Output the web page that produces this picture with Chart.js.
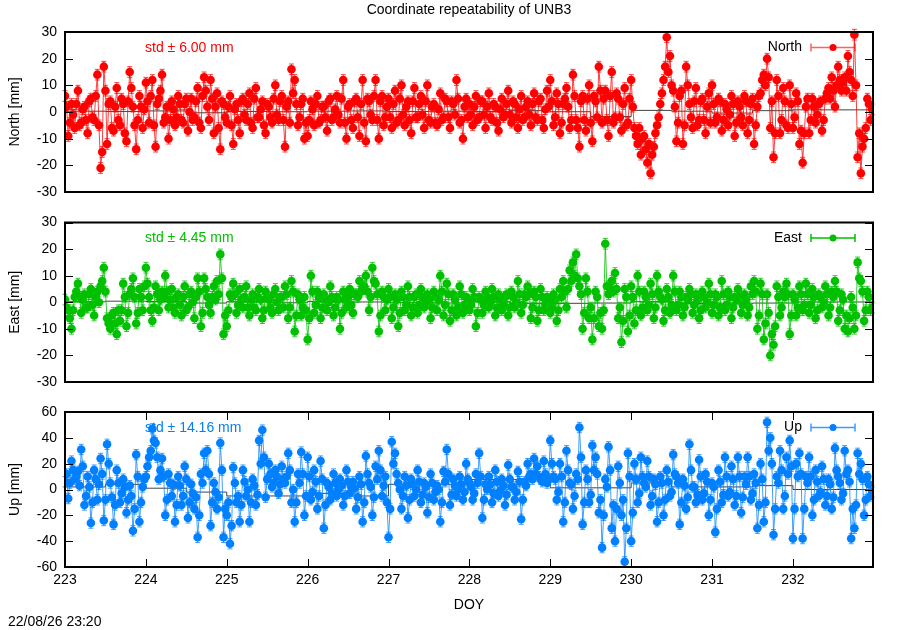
<!DOCTYPE html>
<html>
<head>
<meta charset="utf-8">
<script src="https://cdn.jsdelivr.net/npm/chart.js@4/dist/chart.umd.min.js"></script>
<style>
html, body { margin: 0; padding: 0; background: #fff; }
#wrap { position: relative; width: 900px; height: 630px; }
#wrap canvas { position: absolute; left: 0; top: 0; }
</style>
</head>
<body>
<div id="wrap">
  <canvas id="cNorth" width="900" height="630"></canvas>
  <canvas id="cEast" width="900" height="630"></canvas>
  <canvas id="cUp" width="900" height="630"></canvas>
</div>
<script>
// epochs: DOY 223.00, 223.02, 223.04 ... ; "even" arrays hold 223.00, 223.04, ...
// and "odd" arrays hold 223.02, 223.06, ...
const startDoy = 223.0;
const stepDoy = 0.04;
const halfStep = 0.02;

// residuals in mm
const north = [
  6,-9,3,-6,8, -4,2,-8,5,-3, 14,-21,17,-12,4, -7,9,-5,3,-11, 15,2,-14,6,-6,
  11,-4,12,-13,5, 14,-2,-10,4,-5, 6,-3,3,-7,5, -2,9,-6,13,2, 12,-8,7,-14,3,
  -4,6,-12,3,-8, 5,-3,7,-6,9, -2,4,-8,2,-4, 10,-3,6,-13,4, 16,12,-5,3,-10,
  -9,4,-5,6,-3, 2,-7,5,-2,6, -4,12,-10,3,-6, 5,-9,12,-11,4, -3,12,-10,6,-2,
  5,-6,8,-3,10, -5,4,-8,9,-2, 6,-6,10,-4,3, -5,7,-2,4,-6, 3,12,-4,-10,5,
  3,-5,6,-2,4, -6,7,-3,2,-7, 5,-1,8,-4,3, -6,6,-2,4,-5, 7,-3,5,-6,8,
  12,-5,7,-8,3, 9,-6,14,-3,-13, 6,-7,10,-11,4, 17,-4,8,-9,15, -2,5,-7,9,-4,
  12,-6,-12,-16,-9, -19,-23,-13,-5,3, 12,28,21,8,-11, 6,-12,17,3,-6, 9,-3,5,-8,7,
  10,-4,5,-7,3, -5,6,-9,4,-2, 6,-8,3,-12,2, 7,14,20,-6,-17, 12,-8,9,-5,10,
  -6,7,-12,-19,2, -8,5,-4,3,-7, 5,9,13,2,17, 8,13,21,12,29, -17,-23,-10,5,-3
];
const northOdd = [
  2,-4,-1,3,-5, 1,-3,4,-2,6, -5,-15,8,3,-6, 2,-3,5,-8,4, 9,-5,-3,2,1,
  4,6,-5,3,8, -4,2,-3,1,-2, 3,-4,5,0,-3, 4,-4,6,8,-3, 5,2,-6,4,-2,
  2,-5,1,-3,4, -1,3,-4,5,-2, 1,-5,3,-2,5, -1,4,-3,2,-4, 7,3,-2,5,-4,
  -3,1,3,-4,2, -2,4,-3,1,-1, 5,-4,2,-3,4, -2,3,-4,5,-1, 6,-3,4,-5,2,
  -2,3,-4,5,-1, 2,-3,4,-2,3, -1,4,-3,2,-4, 1,-3,5,-2,4, -1,5,-3,2,-2,
  -1,2,-3,4,-1, 2,-2,3,-4,1, -2,3,-1,4,-2, 1,-3,2,-1,3, -2,4,-3,1,2,
  4,-2,3,-4,5, 2,-3,6,-6,4, -3,5,-4,6,-2, 8,5,-3,6,-4, 7,-2,3,-5,5,
  2,-9,-6,-10,-14, -12,-16,-8,-2,7, 17,15,10,2,-4, 8,-5,10,-2,4, -5,4,-3,2,-4,
  3,-2,4,-3,1, -1,3,-4,2,-5, 4,-3,5,-5,6, 12,10,13,4,-8, 6,-3,4,-6,3,
  -2,4,-7,-8,5, -3,2,-1,4,-3, 7,5,8,10,12, 11,8,15,6,10, -8,-13,-6,3,1
];
const east = [
  1,-3,-10,2,7, -4,3,-2,5,-5, 4,6,13,-6,-10, -4,-12,-7,7,-9, 3,9,-8,5,-3,
  13,2,-7,6,-3, 4,10,-2,5,-4, 3,-5,6,-2,4, -6,9,-9,9,2, -4,6,8,18,-12,
  -9,3,7,-4,5, -2,6,-5,3,-3, 5,-6,4,1,-4, 5,-3,2,6,-6, 8,-11,3,-5,2,
  -14,10,-4,4,-6, 3,-3,6,-5,2, -10,4,-2,5,-4, 3,8,5,10,-3, 13,7,-11,4,-3,
  5,-6,3,-9,4, -3,6,-5,2,-4, 5,-2,3,-6,4, -3,10,-5,7,-7, 3,-5,6,-4,2,
  -3,5,-9,2,-4, 4,-2,5,-5,3, -3,2,-5,4,-2, 8,-4,3,6,-6, 4,-7,5,-3,2,
  -4,3,-7,5,8, -2,12,15,18,6, -10,9,-6,-14,4, -9,-10,22,3,8, 11,-6,-15,5,-11,
  6,-8,10,-5,4, -3,7,-6,10,2, -7,5,-4,10,-3, 4,-5,2,5,-4, 3,-6,4,-2,7,
  -4,3,-5,8,-3, 4,-6,2,5,-4, 3,-5,6,8,-10, 7,-14,3,-20,-16, 6,-5,4,7,-12,
  3,-5,6,-3,7, -4,5,-6,3,-2, 6,-5,4,8,-7, 3,-10,-11,2,-10, 15,8,-7,4,-3
];
const eastOdd = [
  -2,-6,-3,4,2, 1,-2,3,-1,2, 0,8,4,-8,-5, -8,-3,-3,2,-4, 5,2,-4,2,6,
  7,-3,-2,3,1, 2,4,1,-2,2, -1,2,-3,3,0, 2,4,-4,5,-1, 2,1,3,9,-5,
  -3,2,3,-1,1, 2,-2,1,-2,2, 1,-3,2,-2,3, 0,2,-2,3,-2, 4,-5,1,-2,-3,
  -6,4,-1,2,-2, 1,0,2,-2,1, -4,1,2,-1,3, 2,4,6,4,2, 8,3,-5,2,1,
  2,-2,1,-4,2, -1,2,-2,3,-1, 2,0,1,-2,2, 1,4,-1,3,-3, 1,-2,3,-1,1,
  -1,2,-4,1,-1, 2,0,2,-2,1, -1,3,-2,2,0, 3,-1,2,3,-2, 2,-3,2,-1,1,
  -2,1,-3,2,4, 5,8,10,9,3, -4,4,-2,-6,2, -4,-3,6,5,4, 5,-2,-7,2,-5,
  2,-3,4,-2,2, -1,3,-2,4,1, -3,2,-1,4,-1, 2,-2,1,3,-1, 1,-3,2,0,3,
  -1,2,-2,3,-1, 2,-2,1,2,-1, 1,-2,3,4,-5, 3,-8,-4,-12,-9, 2,-2,2,3,-5,
  1,-2,3,-1,3, -1,2,-3,2,0, 3,-2,2,4,-3, 1,-5,-6,-2,-5, 9,4,-3,2,-2
];
const up = [
  6,-7,22,8,14, 31,-12,10,-26,15, -8,24,-24,35,5, -27,15,-10,8,-18, 3,-32,27,-25,2,
  10,25,47,36,8, 24,-20,12,-5,-25, 10,-12,18,-22,4, -15,-37,12,28,30, -28,5,-15,36,-37,
  -20,-42,17,-10,-25, 15,-5,-25,8,-12, 38,46,-6,20,2, 15,-3,18,5,28, -10,-25,12,29,-20,
  25,-8,15,-15,22, -30,5,-8,12,-5, 8,-12,15,-3,6, -15,10,-25,26,5, -20,18,30,-5,10,
  -37,37,28,5,-15, 10,-22,8,-5,15, -10,5,-18,12,-8, 3,-25,14,31,-12, 8,-5,10,-8,20,
  5,-8,12,28,-22, 4,10,-10,15,-5, 8,-12,19,2,-8, 14,-23,6,20,12, 24,18,8,22,5,
  38,10,-8,20,-25, 30,5,-15,12,48, -27,15,-10,34,25, -18,-45,8,33,-30, -40,18,-20,-56,28,
  -40,20,-10,25,5, 22,-12,8,-25,10, -20,15,-5,27,10, -27,8,-15,35,2, -10,23,-8,12,-20,
  5,-33,15,-10,25, -5,18,-12,25,-18, 10,25,-8,12,-30, 20,-25,52,40,-35, 10,30,-15,25,38,
  -38,20,28,-38,10, 25,-20,15,-5,18, -12,8,-15,32,10, -8,30,15,-38,-30, 28,20,-20,10,-5
];
const upOdd = [
  12,5,15,10,3, 18,-5,2,-10,8, 4,12,-8,20,-6, -12,5,-3,2,-8, -5,-15,10,-10,8,
  18,30,38,25,15, 10,-8,5,4,-12, 3,-5,8,-10,-3, -6,-20,5,15,12, -10,-2,-6,15,-15,
  -10,-28,5,-5,-12, 6,0,-10,3,-4, 20,25,8,12,5, 10,4,8,10,15, 0,-10,5,12,-5,
  10,-2,6,-5,8, -12,2,-3,5,0, 3,-5,6,2,1, -6,4,-10,12,2, -6,8,15,3,-10,
  -15,20,12,0,-5, 3,-8,4,0,6, -4,2,-6,5,-2, 0,-10,6,12,-4, 3,0,4,-2,8,
  2,-3,5,10,-8, 0,4,-3,6,-1, 3,-4,8,2,-2, 6,-8,3,10,8, 12,10,6,12,8,
  20,8,-2,10,-10, 15,4,-5,8,25, -10,8,-4,15,12, -8,-20,2,15,-12, -15,5,-8,-30,10,
  -18,8,-3,10,2, 10,-5,4,-10,5, -8,6,-2,12,5, -10,3,-6,15,2, -4,10,-3,6,-8,
  2,-15,6,-4,10, -2,8,-5,10,-6, 4,10,-3,5,-12, 8,-10,30,20,-15, 5,15,-5,12,18,
  -15,10,12,-15,5, 10,-8,6,-2,8, -5,4,-6,15,5, -3,12,6,-15,-12, 12,8,-8,4,-2
];

// half-day means (mostly hidden under the points)
const meanDoy   = [223,223.5,224,224.5,225,225.5,226,226.5,227,227.5,228,228.5,229,229.5,230,230.5,231,231.5,232,232.5,233];
const meanNorth = [0.5,0.3,0.2,0.4,-0.3,0.2,0.1,0.3,0.4,0.2,0.3,0.2,0.5,0.1,-1.7,0.6,0.3,-0.4,0.5,0.8,0.8];
const meanEast  = [-0.5,0.2,0.4,0.3,-0.3,0.2,-0.2,0.3,0.1,-0.2,-0.3,0.2,-0.4,-0.4,-0.3,0.2,-0.5,-0.6,-0.3,0.1,0.1];
const meanUp    = [3,2,4,1,-2,-5,-5,-3,-5,4,4,7.7,7.7,1.3,1.3,5,2,2,3,0,0];

const stdText = ['std \u00b1 6.00 mm', 'std \u00b1 4.45 mm', 'std \u00b1 14.16 mm'];

const FONT = '"Liberation Sans", Arial, Helvetica, sans-serif';
Chart.defaults.font.family = FONT;
Chart.defaults.font.size = 14;
Chart.defaults.color = '#000';

function merge(even, odd) {
  const pts = [];
  even.forEach((v, i) => {
    pts.push({ x: startDoy + i * stepDoy, y: v });
    pts.push({ x: startDoy + i * stepDoy + halfStep, y: odd[i] });
  });
  return pts;
}

function makePanel(id, even, odd, means, o) {
  const pts = merge(even, odd);
  const mpts = means.map((v, i) => ({ x: meanDoy[i], y: v }));

  const decor = {
    id: 'decor' + id,
    beforeDatasetsDraw(chart) {
      const ctx = chart.ctx;
      ctx.save();
      ctx.font = '14px ' + FONT;
      ctx.textBaseline = 'middle';
      // std label
      ctx.fillStyle = o.color;
      ctx.textAlign = 'left';
      ctx.fillText(o.std, 145, o.top + 16);
      // key
      const ky = o.top + 15.5;
      ctx.fillStyle = '#000';
      ctx.textAlign = 'right';
      ctx.fillText(o.name, 802, ky);
      ctx.strokeStyle = o.keyColor;
      ctx.lineWidth = 1.5;
      ctx.beginPath();
      ctx.moveTo(811, ky); ctx.lineTo(855, ky);
      ctx.moveTo(811, ky - 4); ctx.lineTo(811, ky + 4);
      ctx.moveTo(855, ky - 4); ctx.lineTo(855, ky + 4);
      ctx.stroke();
      ctx.fillStyle = o.color;
      ctx.beginPath();
      ctx.arc(833, ky, 3.5, 0, Math.PI * 2);
      ctx.fill();
      // y axis title
      ctx.save();
      ctx.translate(15, (chart.chartArea.top + chart.chartArea.bottom) / 2);
      ctx.rotate(-Math.PI / 2);
      ctx.textAlign = 'center';
      ctx.fillStyle = '#000';
      ctx.fillText(o.ytitle, 0, 0);
      ctx.restore();
      ctx.restore();
    },
    afterDatasetsDraw(chart) {
      const ctx = chart.ctx;
      const ys = chart.scales.y, xs = chart.scales.x;
      const a = chart.chartArea;
      ctx.save();
      // error bars
      const meta = chart.getDatasetMeta(0);
      ctx.strokeStyle = o.lineColor;
      ctx.lineWidth = 1;
      ctx.beginPath();
      meta.data.forEach((p, i) => {
        const v = pts[i].y;
        const y1 = ys.getPixelForValue(v + o.err);
        const y2 = ys.getPixelForValue(v - o.err);
        ctx.moveTo(p.x, y1); ctx.lineTo(p.x, y2);
        ctx.moveTo(p.x - 2.5, y1); ctx.lineTo(p.x + 2.5, y1);
        ctx.moveTo(p.x - 2.5, y2); ctx.lineTo(p.x + 2.5, y2);
      });
      ctx.stroke();
      // inward ticks
      ctx.strokeStyle = '#000';
      ctx.lineWidth = 1;
      ctx.beginPath();
      ys.ticks.forEach(t => {
        const py = Math.round(ys.getPixelForValue(t.value)) + 0.5;
        ctx.moveTo(a.left, py); ctx.lineTo(a.left + 8, py);
        ctx.moveTo(a.right, py); ctx.lineTo(a.right - 8, py);
      });
      if (o.showX) {
        xs.ticks.forEach(t => {
          const px = Math.round(xs.getPixelForValue(t.value)) + 0.5;
          ctx.moveTo(px, a.bottom); ctx.lineTo(px, a.bottom - 8);
          ctx.moveTo(px, a.top); ctx.lineTo(px, a.top + 8);
        });
      }
      ctx.stroke();
      // frame
      ctx.lineWidth = 2;
      ctx.strokeRect(a.left, a.top, a.right - a.left, a.bottom - a.top);
      // page texts
      ctx.font = '14px ' + FONT;
      ctx.fillStyle = '#000';
      ctx.textBaseline = 'middle';
      if (o.pageTitle) {
        ctx.textAlign = 'center';
        ctx.fillText(o.pageTitle, (a.left + a.right) / 2, 10);
      }
      if (o.showX) {
        ctx.textAlign = 'center';
        ctx.fillText('DOY', (a.left + a.right) / 2, 605);
        ctx.textAlign = 'left';
        ctx.fillText('22/08/26 23:20', 8, 622);
      }
      ctx.restore();
    }
  };

  return new Chart(document.getElementById(id), {
    type: 'scatter',
    data: {
      datasets: [{
        label: o.name,
        data: pts,
        showLine: true,
        borderColor: o.lineColor,
        borderWidth: 1,
        pointRadius: 4.3,
        pointStyle: 'circle',
        pointBackgroundColor: o.color,
        pointBorderWidth: 0
      }, {
        label: 'mean',
        data: mpts,
        showLine: true,
        stepped: 'after',
        borderColor: '#444',
        borderWidth: 1,
        pointRadius: 0
      }]
    },
    options: {
      responsive: false,
      animation: false,
      events: [],
      layout: { padding: { left: 0, right: 27, top: o.top, bottom: o.padBottom } },
      plugins: { legend: { display: false }, tooltip: { enabled: false } },
      scales: {
        x: {
          type: 'linear',
          min: 223,
          max: 232.99,
          display: o.showX,
          grid: { display: false, drawTicks: false },
          border: { display: false },
          ticks: { stepSize: 1, includeBounds: false, padding: 5, maxRotation: 0 },
          afterFit: s => { s.height = o.showX ? 63 : 0; }
        },
        y: {
          min: o.yMin,
          max: o.yMax,
          grid: { display: false, drawTicks: false },
          border: { display: false },
          ticks: { stepSize: o.yStep, padding: 8 },
          afterFit: s => { s.width = 65; }
        }
      }
    },
    plugins: [decor]
  });
}

makePanel('cNorth', north, northOdd, meanNorth, {
  top: 32, padBottom: 630 - 192, yMin: -30, yMax: 30, yStep: 10,
  color: '#ff0000', lineColor: 'rgba(255,0,0,0.75)', keyColor: '#ff6060',
  name: 'North', ytitle: 'North [mm]', std: stdText[0], err: 2.0,
  showX: false, pageTitle: 'Coordinate repeatability of UNB3'
});
makePanel('cEast', east, eastOdd, meanEast, {
  top: 222.5, padBottom: 630 - 382, yMin: -30, yMax: 30, yStep: 10,
  color: '#00c000', lineColor: 'rgba(0,192,0,0.8)', keyColor: '#00c000',
  name: 'East', ytitle: 'East [mm]', std: stdText[1], err: 2.0,
  showX: false
});
makePanel('cUp', up, upOdd, meanUp, {
  top: 412, padBottom: 0, yMin: -60, yMax: 60, yStep: 20,
  color: '#0080ff', lineColor: 'rgba(0,128,255,0.75)', keyColor: '#3a9cff',
  name: 'Up', ytitle: 'Up [mm]', std: stdText[2], err: 4.0,
  showX: true
});
</script>
</body>
</html>
